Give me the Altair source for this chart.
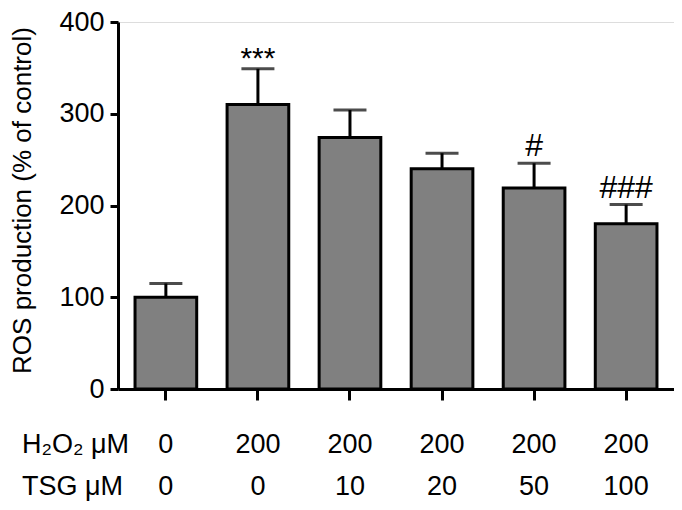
import altair as alt
import pandas as pd

groups = ["g1", "g2", "g3", "g4", "g5", "g6"]
ros_values = [100, 310, 274, 240, 219, 180]
err_tops = [115, 349, 304, 257, 246, 201]
star_ann = ["", "***", "", "", "", ""]
hash_ann = ["", "", "", "", "#", "###"]
h2o2_labels = ["0", "200", "200", "200", "200", "200"]
tsg_labels = ["0", "0", "10", "20", "50", "100"]
row_titles = ["H₂O₂ μM", "TSG μM"]
y_ticks = [0, 100, 200, 300, 400]

df = pd.DataFrame({
    "group": groups,
    "value": ros_values,
    "err": err_tops,
    "star": star_ann,
    "hash": hash_ann,
    "h2o2": h2o2_labels,
    "tsg": tsg_labels,
})
rows = pd.DataFrame({"row": row_titles})

FONT = "Liberation Sans"
FS = 27

x = alt.X("group:N", sort=groups,
          scale=alt.Scale(paddingInner=0.33, paddingOuter=0.185),
          axis=alt.Axis(labels=False, title=None, tickSize=11, tickWidth=3,
                        domainWidth=3, domainColor="black", tickColor="black"))
y = alt.Y("value:Q", scale=alt.Scale(domain=[0, 400]),
          axis=alt.Axis(values=y_ticks, title="ROS production (% of control)",
                        grid=False, tickSize=8, tickWidth=3, domainWidth=3,
                        domainColor="black", tickColor="black",
                        labelFontSize=FS, labelFont=FONT, labelColor="black",
                        labelPadding=6,
                        titleFontSize=26, titleFont=FONT, titleFontWeight="normal",
                        titleColor="black", titleX=-96, titleY=178,
                        titleAngle=-90, titleBaseline="middle", titleAlign="center"))

base = alt.Chart(df)

bars = base.mark_bar(fill="#808080", stroke="black", strokeWidth=3).encode(x=x, y=y)

err_rule = base.mark_rule(color="black", strokeWidth=3).encode(
    x=alt.X("group:N", sort=groups), y="value:Q", y2="err:Q")

caps = base.mark_tick(color="black", thickness=3, size=33, orient="horizontal").encode(
    x=alt.X("group:N", sort=groups), y="err:Q")

stars = base.mark_text(fontSize=30, font=FONT, baseline="alphabetic", dy=-1,
                       color="black").encode(
    x=alt.X("group:N", sort=groups), y="err:Q", text="star:N")

hashes = base.mark_text(fontSize=32, font=FONT, baseline="alphabetic", dy=-7,
                        color="black").encode(
    x=alt.X("group:N", sort=groups), y="err:Q", text="hash:N")

row1 = base.mark_text(fontSize=FS, font=FONT, baseline="alphabetic",
                      color="black").encode(
    x=alt.X("group:N", sort=groups), y=alt.value(431), text="h2o2:N")
row2 = base.mark_text(fontSize=FS, font=FONT, baseline="alphabetic",
                      color="black").encode(
    x=alt.X("group:N", sort=groups), y=alt.value(473), text="tsg:N")

rt1 = alt.Chart(rows).transform_filter(alt.datum.row == row_titles[0]).mark_text(
    fontSize=FS, font=FONT, baseline="alphabetic", align="left", color="black").encode(
    x=alt.value(-96), y=alt.value(431), text="row:N")
rt2 = alt.Chart(rows).transform_filter(alt.datum.row == row_titles[1]).mark_text(
    fontSize=FS, font=FONT, baseline="alphabetic", align="left", color="black").encode(
    x=alt.value(-96), y=alt.value(473), text="row:N")

chart = alt.layer(bars, err_rule, caps, stars, hashes, row1, row2, rt1, rt2).properties(
    width=556, height=367,
    autosize=alt.AutoSizeParams(type="none"),
    padding={"left": 110, "top": 14, "right": 0, "bottom": 113},
).configure_view(stroke=None).configure(background="white")

chart.save("out.html", embed_options={"renderer": "svg", "actions": False})
